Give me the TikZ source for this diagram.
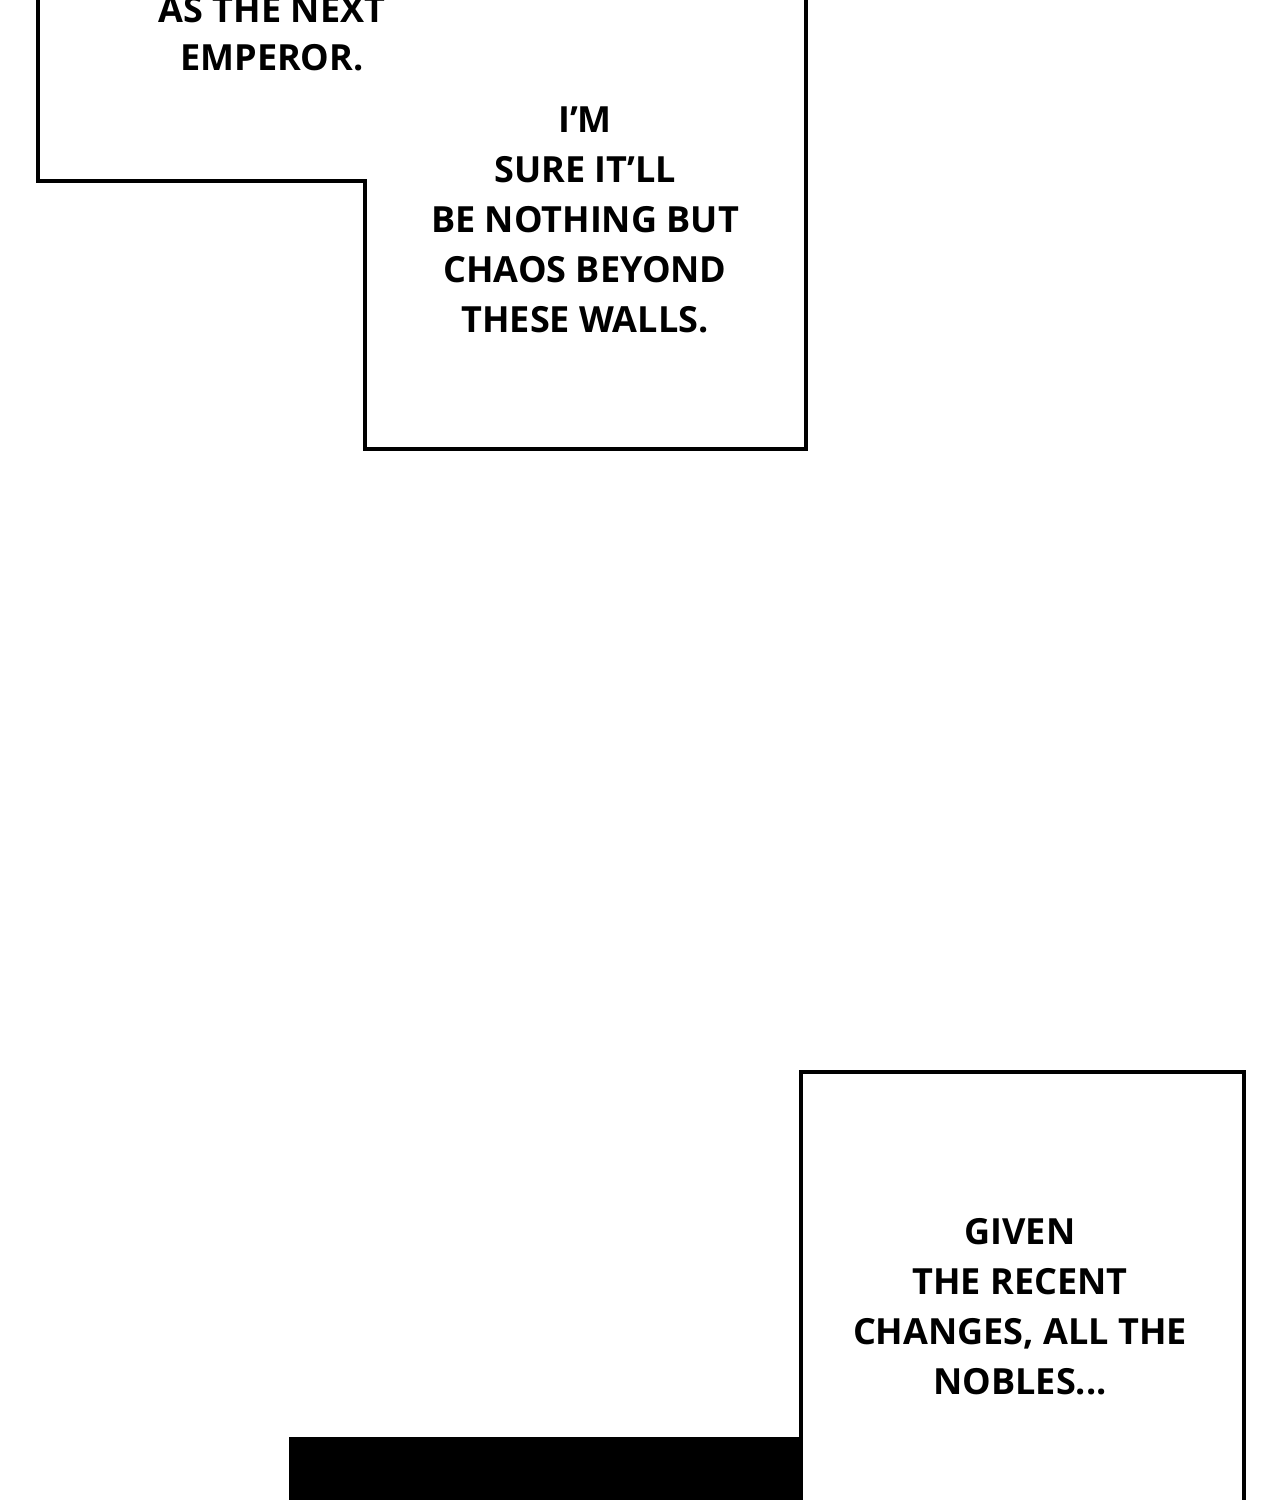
\documentclass[tikz,border=0pt]{standalone}
\usepackage{fontspec}
\setmainfont{Open Sans}
\usetikzlibrary{positioning}

\begin{document}
\begin{tikzpicture}[x=0.02cm, y=-0.02cm,
    panel/.style={draw, line width=2.3pt, line join=miter},
    speech/.style={align=center, font=\fontsize{20.5}{28.5}\selectfont\bfseries, inner sep=0pt}
]
\useasboundingbox[fill=white] (0,0) rectangle (1280,1500);

% Panels
\draw[panel] (38,-5) -- (38,181) -- (365,181) -- (365,449) -- (806,449) -- (806,-5);
\draw[panel] (801,1510) -- (801,1072) -- (1244,1072) -- (1244,1510);

% Dark strip at the bottom
\fill[black] (289,1437) rectangle (801,1500);

% Texts
\node[speech] (next) at (272,10) {AS THE NEXT};
\node[speech] (emperor) at (272,58) {EMPEROR.};
\node[speech] (chaos) at (585,220) {I'M\\SURE IT'LL\\BE NOTHING BUT\\CHAOS BEYOND\\THESE WALLS.};
\node[speech] (nobles) at (1020,1307) {GIVEN\\THE RECENT\\CHANGES, ALL THE\\NOBLES...};

\end{tikzpicture}
\end{document}
